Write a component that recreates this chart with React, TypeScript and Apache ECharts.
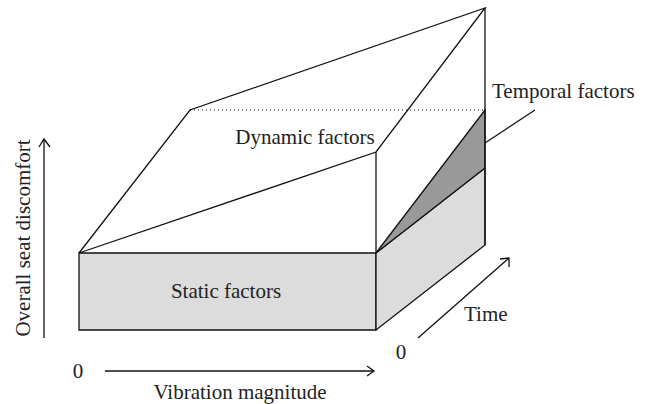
import React, { useEffect, useRef } from "react";
import * as echarts from "echarts";

// Diagram vertices in the hidden plot's data units (x: 0..646, y: 0..404 downward)
const frontFace = [[79, 253], [376, 253], [376, 330], [79, 330]];
const sideFace = [[376, 253], [485, 168], [485, 245], [376, 330]];
const temporalWedge = [[376, 253], [485, 110], [485, 168]];
const topSurface = [[79, 253], [190, 110], [485, 8], [376, 152], [79, 253]];
const frontEdge = [[376, 152], [376, 253]];
const backEdge = [[485, 8], [485, 245]];
const dottedLevel = [[190, 110], [485, 110]];
const temporalLeader = [[485, 143], [535, 110]];
const magnitudeAxis = [[105, 371], [374, 371]];
const magnitudeHead = [[367, 366], [374, 371], [367, 376]];
const discomfortAxis = [[44, 338], [44, 139]];
const discomfortHead = [[39, 147], [44, 139], [50, 147]];
const timeAxis = [[418, 338], [509, 258]];
const timeHead = [[500, 259], [509, 258], [509, 267]];

const labels = [
  { text: "Dynamic factors", at: [305, 137], align: "center" },
  { text: "Static factors", at: [226, 291], align: "center" },
  { text: "Temporal factors", at: [492, 91], align: "left" },
  { text: "Time", at: [464, 314], align: "left" },
  { text: "0", at: [401, 352], align: "center" },
  { text: "0", at: [78, 371], align: "center" },
  { text: "Vibration magnitude", at: [240, 392], align: "center" },
];
const yTitle = { text: "Overall seat discomfort", at: [23, 238] };

type Shape = { pts: number[][]; kind: "fill" | "line" | "dot"; fill?: string };
const shapes: Shape[] = [
  { pts: frontFace, kind: "fill", fill: "#dcdcdc" },
  { pts: sideFace, kind: "fill", fill: "#dcdcdc" },
  { pts: temporalWedge, kind: "fill", fill: "#999999" },
  { pts: topSurface, kind: "line" },
  { pts: frontEdge, kind: "line" },
  { pts: backEdge, kind: "line" },
  { pts: dottedLevel, kind: "dot" },
  { pts: temporalLeader, kind: "line" },
  { pts: magnitudeAxis, kind: "line" },
  { pts: magnitudeHead, kind: "line" },
  { pts: discomfortAxis, kind: "line" },
  { pts: discomfortHead, kind: "line" },
  { pts: timeAxis, kind: "line" },
  { pts: timeHead, kind: "line" },
];

const FONT = "'Liberation Serif', 'DejaVu Serif', serif";

export default function App() {
  const ref = useRef<HTMLDivElement>(null);
  useEffect(() => {
    if (!ref.current) return;
    const chart = echarts.init(ref.current, undefined, { renderer: "svg" });
    chart.setOption({
      animation: false,
      backgroundColor: "#ffffff",
      grid: { left: 0, right: 0, top: 0, bottom: 0 },
      xAxis: { type: "value", min: 0, max: 646, show: false },
      yAxis: { type: "value", min: 0, max: 404, inverse: true, show: false },
      series: [
        {
          type: "custom",
          clip: false,
          data: shapes.map((s, i) => [i, i]),
          renderItem: (params: any, api: any) => {
            const s = shapes[params.dataIndex];
            const points = s.pts.map((p) => api.coord(p));
            if (s.kind === "fill") {
              return {
                type: "polygon",
                shape: { points },
                style: { fill: s.fill, stroke: "#111", lineWidth: 1.3, lineJoin: "miter" },
              };
            }
            return {
              type: "polyline",
              shape: { points },
              style: {
                fill: null,
                stroke: "#111",
                lineWidth: s.kind === "dot" ? 1 : 1.3,
                lineDash: s.kind === "dot" ? [1, 3] : null,
              },
            };
          },
        },
        {
          type: "custom",
          clip: false,
          data: labels.map((l) => [l.at[0], l.at[1]]),
          renderItem: (params: any, api: any) => {
            const l = labels[params.dataIndex];
            const [x, y] = api.coord(l.at);
            return {
              type: "text",
              x,
              y,
              style: {
                text: l.text,
                fill: "#222",
                font: `21px ${FONT}`,
                align: l.align,
                verticalAlign: "middle",
              },
            };
          },
        },
        {
          type: "custom",
          clip: false,
          data: [[yTitle.at[0], yTitle.at[1]]],
          renderItem: (params: any, api: any) => {
            const [x, y] = api.coord(yTitle.at);
            return {
              type: "text",
              x,
              y,
              rotation: Math.PI / 2,
              style: {
                text: yTitle.text,
                fill: "#222",
                font: `21px ${FONT}`,
                align: "center",
                verticalAlign: "middle",
              },
            };
          },
        },
      ],
    });
    return () => chart.dispose();
  }, []);
  return (
    <div
      ref={ref}
      style={{ position: "fixed", left: 0, top: 0, width: 646, height: 404, background: "#fff" }}
    />
  );
}
